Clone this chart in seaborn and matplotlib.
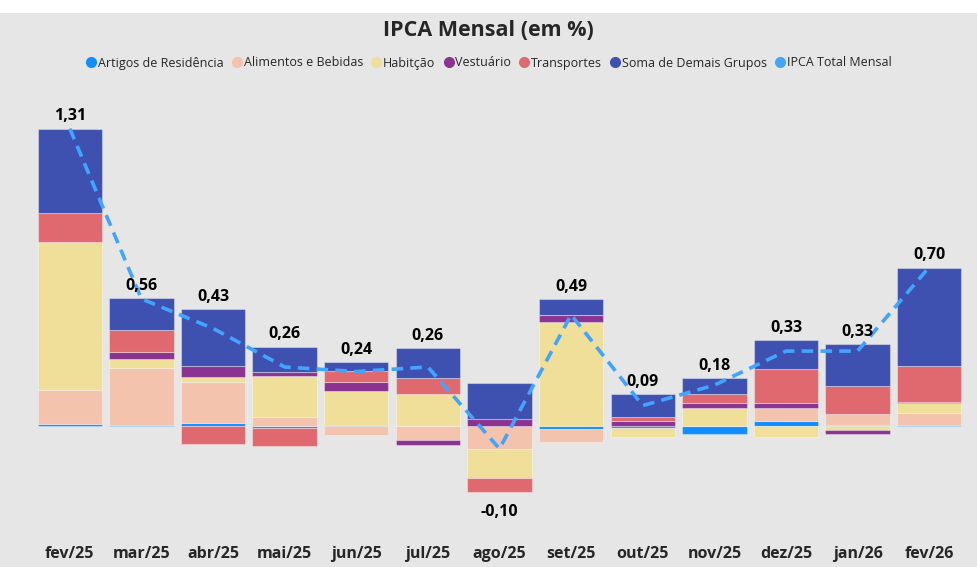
import numpy as np
import pandas as pd
import seaborn as sns
import matplotlib.pyplot as plt
from matplotlib.lines import Line2D
from matplotlib.patches import Rectangle

# -----------------------------
# DATA (contribuições em p.p.)
# -----------------------------
meses = ["fev/25", "mar/25", "abr/25", "mai/25", "jun/25", "jul/25", "ago/25",
         "set/25", "out/25", "nov/25", "dez/25", "jan/26", "fev/26"]
artigos = [0.010, 0.005, 0.015, -0.010, 0.003, 0.002, 0.000, -0.015, -0.010, -0.035, 0.020, 0.005, 0.003]
alimentos = [0.15, 0.25, 0.18, 0.04, -0.04, -0.06, -0.10, -0.055, 0.0, 0.0, 0.06, 0.047, 0.055]
habitacao = [0.65, 0.04, 0.02, 0.18, 0.15, 0.14, -0.13, 0.46, -0.04, 0.08, -0.05, -0.018, 0.045]
vestuario = [0.0, 0.03, 0.05, 0.02, 0.04, -0.025, 0.03, 0.03, 0.02, 0.02, 0.02, -0.015, 0.005]
transportes = [0.13, 0.10, -0.08, -0.08, 0.05, 0.07, -0.06, 0.0, 0.02, 0.04, 0.15, 0.125, 0.155]
demais = [0.37, 0.14, 0.25, 0.11, 0.04, 0.13, 0.16, 0.07, 0.10, 0.07, 0.13, 0.185, 0.435]
ipca_total = [1.31, 0.56, 0.43, 0.26, 0.24, 0.26, -0.10, 0.49, 0.09, 0.18, 0.33, 0.33, 0.70]

grupos = ["Artigos de Residência", "Alimentos e Bebidas", "Habitção", "Vestuário",
          "Transportes", "Soma de Demais Grupos"]
cores = ["#118DFF", "#F3C3AD", "#EFDF98", "#8A3391", "#E0696F", "#3F51B0"]
cor_linha = "#41A5FF"
BG = "#E6E6E6"

df = pd.DataFrame({"mes": meses, "ipca": ipca_total})
series = [artigos, alimentos, habitacao, vestuario, transportes, demais]

# -----------------------------
# FIGURE
# -----------------------------
sns.set_theme(style="white")
plt.rcParams["font.family"] = ["Open Sans", "DejaVu Sans"]

fig = plt.figure(figsize=(9.77, 5.67), dpi=100, facecolor="white")
fig.patches.append(Rectangle((0, 0), 1, (567 - 13) / 567, transform=fig.transFigure,
                             facecolor=BG, edgecolor="none", zorder=-1))

ax = fig.add_axes([34 / 977, (567 - 535) / 567, 931 / 977, 445 / 567])
ax.set_facecolor("none")

# barras empilhadas: positivos para cima, negativos para baixo
pos_base = np.zeros(len(meses))
neg_base = np.zeros(len(meses))
for vals, cor in zip(series, cores):
    v = np.array(vals)
    bottoms = np.where(v >= 0, pos_base, neg_base)
    sns.barplot(x=meses, y=v, bottom=bottoms, color=cor, width=0.9, ax=ax,
                edgecolor=(1, 1, 1, 0.35), linewidth=0.8, saturation=1, zorder=2)
    pos_base += np.clip(v, 0, None)
    neg_base += np.clip(v, None, 0)

# linha do IPCA total
sns.lineplot(x=np.arange(len(meses)), y=df["ipca"], ax=ax, color=cor_linha,
             linewidth=2.6, zorder=3)
ax.lines[-1].set_dashes([3.2, 2.0])

# rótulos de valor
for i, v in enumerate(ipca_total):
    txt = f"{v:.2f}".replace(".", ",")
    if v >= 0:
        ax.annotate(txt, (i, pos_base[i]), xytext=(0, 3), textcoords="offset points",
                    ha="center", va="bottom", fontsize=11.5, fontweight="bold", color="black")
    else:
        ax.annotate(txt, (i, neg_base[i]), xytext=(0, -9), textcoords="offset points",
                    ha="center", va="top", fontsize=11.5, fontweight="bold", color="black")

ax.set_xlim(-0.5, len(meses) - 0.5)
ax.set_ylim(-0.480, 1.480)
ax.set_yticks([])
ax.set_xlabel("")
ax.set_ylabel("")
ax.tick_params(axis="x", length=0, pad=8)
for lbl in ax.get_xticklabels():
    lbl.set_fontweight("bold")
    lbl.set_fontsize(11.5)
sns.despine(ax=ax, left=True, bottom=True)

fig.text(0.5, 1 - 30 / 567, "IPCA Mensal (em %)", ha="center", va="center",
         fontsize=15.5, fontweight="bold")

handles = [Line2D([0], [0], marker="o", linestyle="", markersize=7,
                  markerfacecolor=c, markeredgecolor=c) for c in cores]
handles.append(Line2D([0], [0], marker="o", linestyle="", markersize=7,
                      markerfacecolor=cor_linha, markeredgecolor=cor_linha))
fig.legend(handles, grupos + ["IPCA Total Mensal"], loc="center",
           bbox_to_anchor=(0.5, 1 - 63 / 567), ncol=7, frameon=False, fontsize=9,
           handletextpad=0.05, columnspacing=0.55, handlelength=1.0)

fig.savefig("out.png", dpi=100, facecolor=fig.get_facecolor())
